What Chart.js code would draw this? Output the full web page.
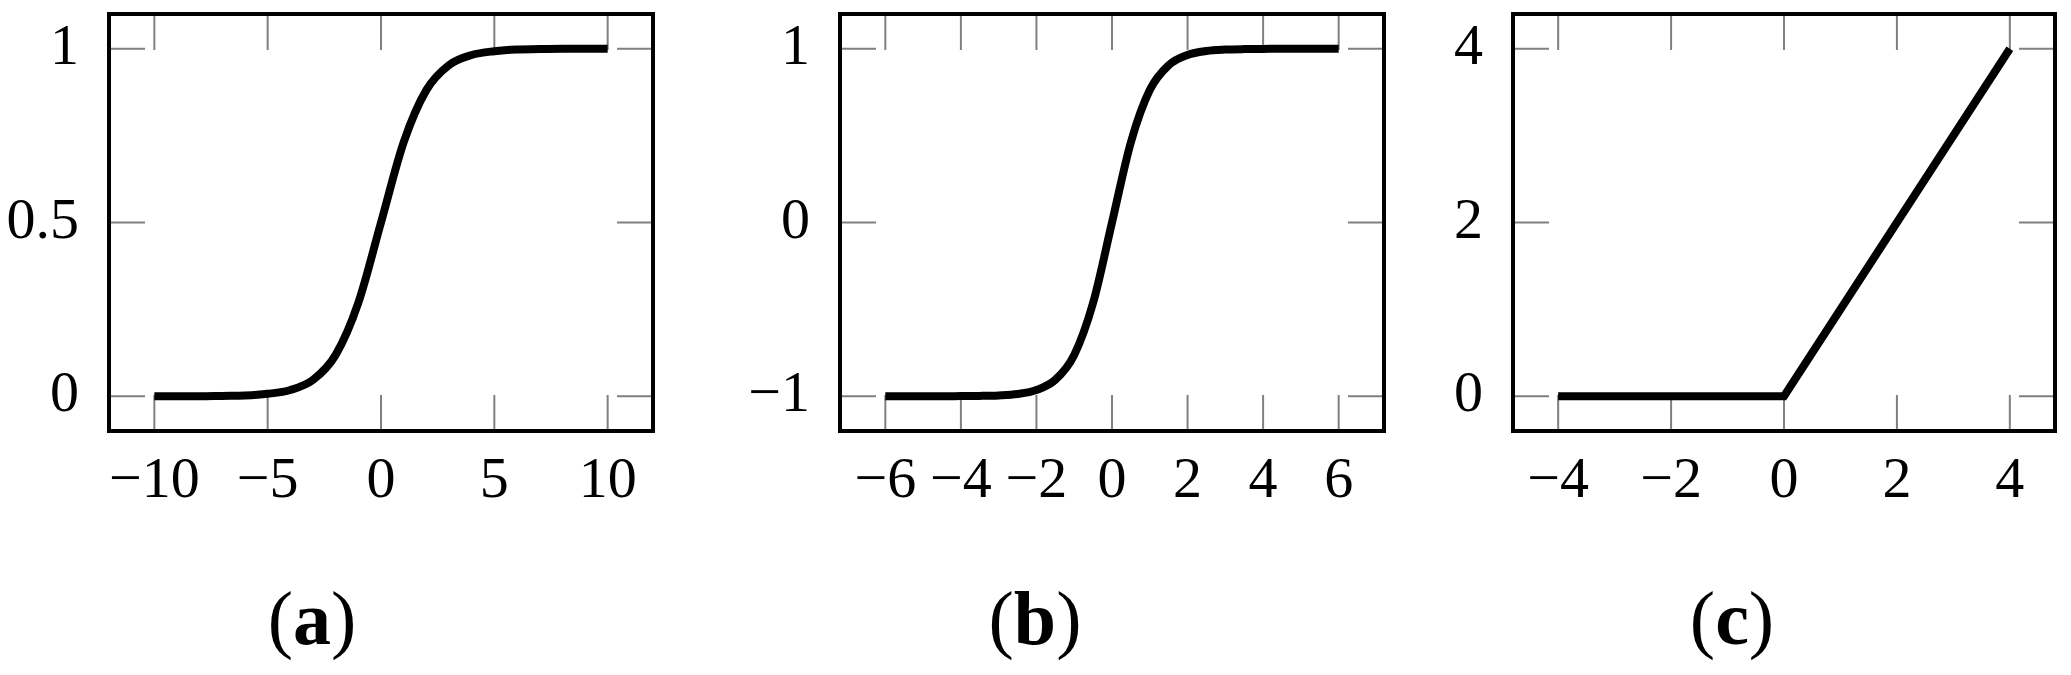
<!DOCTYPE html>
<html>
<head>
<meta charset="utf-8">
<script src="https://cdn.jsdelivr.net/npm/chart.js@4.4.0/dist/chart.umd.min.js"></script>
<style>
  html, body { margin: 0; padding: 0; background: #fff; }
  body { width: 2071px; height: 675px; position: relative; overflow: hidden; font-family: "Liberation Serif", serif; }
  .panel { position: absolute; top: 0; height: 560px; }
  .caption { position: absolute; top: 580px; font-size: 76px; line-height: 1; transform: translateX(-50%); white-space: nowrap; color: #000; }
</style>
</head>
<body>
<div class="panel" style="left:0;width:680px"><canvas id="chartA"></canvas></div>
<div class="panel" style="left:700px;width:710px"><canvas id="chartB"></canvas></div>
<div class="panel" style="left:1420px;width:651px"><canvas id="chartC"></canvas></div>
<div class="caption" style="left:312px">(<b>a</b>)</div>
<div class="caption" style="left:1035px">(<b>b</b>)</div>
<div class="caption" style="left:1732px">(<b>c</b>)</div>

<script>
// === DATA ===
// (a) sigmoid
const sigmoidX = [-10, -9, -8, -7, -6, -5, -4, -3, -2, -1, 0, 1, 2, 3, 4, 5, 6, 7, 8, 9, 10];
const sigmoidY = [0.000, 0.000, 0.000, 0.001, 0.002, 0.007, 0.018, 0.047, 0.119, 0.269, 0.500,
                  0.731, 0.881, 0.953, 0.982, 0.993, 0.998, 0.999, 1.000, 1.000, 1.000];
const aXTicks = [-10, -5, 0, 5, 10];
const aYTicks = [0, 0.5, 1];

// (b) tanh
const tanhX = [-6, -5.5, -5, -4.5, -4, -3.5, -3, -2.5, -2, -1.5, -1, -0.5, 0,
               0.5, 1, 1.5, 2, 2.5, 3, 3.5, 4, 4.5, 5, 5.5, 6];
const tanhY = [-1.000, -1.000, -1.000, -1.000, -0.999, -0.998, -0.995, -0.987, -0.964, -0.905, -0.762, -0.462, 0,
               0.462, 0.762, 0.905, 0.964, 0.987, 0.995, 0.998, 0.999, 1.000, 1.000, 1.000, 1.000];
const bXTicks = [-6, -4, -2, 0, 2, 4, 6];
const bYTicks = [-1, 0, 1];

// (c) ReLU
const reluX = [-4, 0, 4];
const reluY = [0, 0, 4];
const cXTicks = [-4, -2, 0, 2, 4];
const cYTicks = [0, 2, 4];

// === STYLE ===
const TICK_LEN = 36;
const LABEL_FONT = { family: "'Liberation Serif', serif", size: 58 };

// tick marks inside the frame + black frame (pgfplots look)
const frameTicks = {
  id: "frameTicks",
  beforeDatasetsDraw(chart) {
    const { ctx, chartArea: a, scales } = chart;
    ctx.save();
    ctx.strokeStyle = "#808080";
    ctx.lineWidth = 2;
    ctx.beginPath();
    scales.x.ticks.forEach(t => {
      const px = scales.x.getPixelForValue(t.value);
      ctx.moveTo(px, a.bottom); ctx.lineTo(px, a.bottom - TICK_LEN);
      ctx.moveTo(px, a.top); ctx.lineTo(px, a.top + TICK_LEN);
    });
    scales.y.ticks.forEach(t => {
      const py = scales.y.getPixelForValue(t.value);
      ctx.moveTo(a.left, py); ctx.lineTo(a.left + TICK_LEN, py);
      ctx.moveTo(a.right, py); ctx.lineTo(a.right - TICK_LEN, py);
    });
    ctx.stroke();
    ctx.restore();
  },
  afterDraw(chart) {
    const { ctx, chartArea: a } = chart;
    ctx.save();
    ctx.strokeStyle = "#000";
    ctx.lineWidth = 4;
    ctx.strokeRect(a.left, a.top, a.right - a.left, a.bottom - a.top);
    ctx.restore();
  }
};

function fmt(v) {
  return v < 0 ? "\u2212" + Math.abs(v) : String(v);
}

function makeChart(id, xs, ys, xTicks, yTicks, xr, yr, yAxisWidth, padRight, smooth) {
  const points = xs.map((x, i) => ({ x: x, y: ys[i] }));
  return new Chart(document.getElementById(id), {
    type: "line",
    data: {
      datasets: [{
        data: points,
        borderColor: "#000",
        borderWidth: 8,
        pointRadius: 0,
        fill: false,
        tension: smooth ? 0.4 : 0,
        cubicInterpolationMode: smooth ? "monotone" : "default"
      }]
    },
    options: {
      responsive: true,
      maintainAspectRatio: false,
      animation: false,
      layout: { padding: { top: 14, right: padRight, left: 0, bottom: 0 } },
      plugins: { legend: { display: false }, tooltip: { enabled: false } },
      scales: {
        x: {
          type: "linear",
          min: xr[0], max: xr[1],
          grid: { display: false, drawTicks: false },
          border: { display: false },
          afterBuildTicks: s => { s.ticks = xTicks.map(v => ({ value: v })); },
          afterFit: s => { s.height = 129; s.paddingLeft = 0; s.paddingRight = 0; },
          ticks: { font: LABEL_FONT, color: "#000", padding: 16, maxRotation: 0, autoSkip: false, callback: fmt }
        },
        y: {
          type: "linear",
          min: yr[0], max: yr[1],
          grid: { display: false, drawTicks: false },
          border: { display: false },
          afterBuildTicks: s => { s.ticks = yTicks.map(v => ({ value: v })); },
          afterFit: s => { s.width = yAxisWidth; s.paddingTop = 0; s.paddingBottom = 0; },
          ticks: { font: LABEL_FONT, color: "#000", padding: 30, autoSkip: false, callback: fmt }
        }
      }
    },
    plugins: [frameTicks]
  });
}

makeChart("chartA", sigmoidX, sigmoidY, aXTicks, aYTicks, [-12, 12], [-0.1, 1.1], 109, 27, true);
makeChart("chartB", tanhX, tanhY, bXTicks, bYTicks, [-7.2, 7.2], [-1.2, 1.2], 140, 26, true);
makeChart("chartC", reluX, reluY, cXTicks, cYTicks, [-4.8, 4.8], [-0.4, 4.4], 93, 16, false);
</script>
</body>
</html>
